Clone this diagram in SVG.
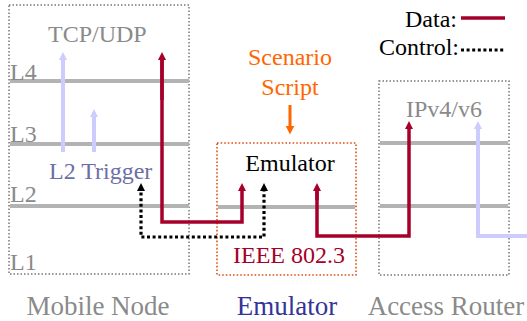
<svg xmlns="http://www.w3.org/2000/svg" width="527" height="321" viewBox="0 0 527 321" font-family="'Liberation Serif', 'DejaVu Serif', serif">
<defs>
<style>
text{font-family:'Liberation Serif','DejaVu Serif',serif;font-size:24px}
.g{fill:#8a8a8a}
.box{fill:none;stroke:#777;stroke-width:1.5;stroke-dasharray:1.5,2}
.ebox{fill:none;stroke:#e0501a;stroke-width:1.6;stroke-dasharray:1.6,2}
.layer{stroke:#b3b3b3;stroke-width:4;fill:none}
.data{stroke:#a6002a;stroke-width:3.5;fill:none}
.ctrl{stroke:#000;stroke-width:3.2;fill:none;stroke-dasharray:3,2.6}
.lav{stroke:#ccccff;stroke-width:4;fill:none}
.big{font-size:27px}
</style>
<marker id="ar" viewBox="0 0 10 10" refX="5" refY="5" markerWidth="8" markerHeight="8" markerUnits="userSpaceOnUse" orient="auto"><path d="M0,0L10,5L0,10z" fill="#a6002a"/></marker>
<marker id="ab" viewBox="0 0 10 10" refX="5" refY="5" markerWidth="8" markerHeight="8" markerUnits="userSpaceOnUse" orient="auto"><path d="M0,0L10,5L0,10z" fill="#000"/></marker>
<marker id="al" viewBox="0 0 10 10" refX="5" refY="5" markerWidth="8" markerHeight="8" markerUnits="userSpaceOnUse" orient="auto"><path d="M0,0L10,5L0,10z" fill="#ccccff"/></marker>
<marker id="ao" viewBox="0 0 10 10" refX="5" refY="5" markerWidth="9" markerHeight="9" markerUnits="userSpaceOnUse" orient="auto"><path d="M0,0L10,5L0,10z" fill="#ff6600"/></marker>
</defs>

<g id="mobile-node">
<rect class="box" x="9" y="5" width="180" height="269"/>
<line class="layer" x1="10" y1="81" x2="189" y2="81"/>
<line class="layer" x1="10" y1="144" x2="189" y2="144"/>
<line class="layer" x1="10" y1="206" x2="189" y2="206"/>
<text class="g" x="48" y="42">TCP/UDP</text>
<text class="g" x="10" y="80">L4</text>
<text class="g" x="10" y="142">L3</text>
<text class="g" x="10" y="202">L2</text>
<text class="g" x="10" y="270">L1</text>
<text x="49" y="179" fill="#6b6fa8">L2 Trigger</text>
<text class="g big" x="98" y="315" text-anchor="middle">Mobile Node</text>
</g>

<g id="emulator">
<rect class="ebox" x="217" y="143" width="139" height="132"/>
<line class="layer" x1="218" y1="207" x2="355" y2="207"/>
<text x="290" y="171" text-anchor="middle" fill="#000">Emulator</text>
<text x="289" y="263" text-anchor="middle" fill="#a6002a">IEEE 802.3</text>
<text class="big" x="287" y="315" text-anchor="middle" fill="#333399">Emulator</text>
</g>

<g id="access-router">
<rect class="box" x="379" y="81" width="130" height="194"/>
<line class="layer" x1="380" y1="143" x2="508" y2="143"/>
<line class="layer" x1="380" y1="206" x2="508" y2="206"/>
<text class="g" x="444" y="117" text-anchor="middle">IPv4/v6</text>
<text class="g big" x="446" y="315" text-anchor="middle">Access Router</text>
</g>

<g id="scenario-script">
<text x="290" y="65" text-anchor="middle" fill="#ff6600">Scenario</text>
<text x="290" y="95" text-anchor="middle" fill="#ff6600">Script</text>
</g>

<g id="legend">
<text x="457" y="27" text-anchor="end" fill="#000">Data:</text>
<text x="459" y="55" text-anchor="end" fill="#000">Control:</text>
<line class="data" x1="461" y1="18" x2="505" y2="18"/>
<line class="ctrl" x1="461" y1="50" x2="505" y2="50"/>
</g>

<g id="connectors">
<line class="lav" x1="63" y1="152" x2="63" y2="56" marker-end="url(#al)"/>
<line class="lav" x1="94" y1="152" x2="94" y2="113" marker-end="url(#al)"/>
<polyline class="lav" points="527,236 478,236 478,125" marker-end="url(#al)"/>
<polyline class="data" points="162,56 162,222 242,222 242,187" marker-end="url(#ar)"/>
<line class="data" x1="162" y1="100" x2="162" y2="56" marker-end="url(#ar)"/>
<polyline class="data" points="317,187 317,236 409,236 409,125" marker-end="url(#ar)"/>
<line class="data" x1="317" y1="200" x2="317" y2="187" marker-end="url(#ar)"/>
<polyline class="ctrl" points="141,187 141,237 264,237 264,187"/>
<line x1="141" y1="190" x2="141" y2="187" stroke="#000" stroke-width="3.2" marker-end="url(#ab)"/>
<line x1="264" y1="190" x2="264" y2="187" stroke="#000" stroke-width="3.2" marker-end="url(#ab)"/>
<line x1="290" y1="105" x2="290" y2="130" stroke="#ff6600" stroke-width="3" marker-end="url(#ao)"/>
</g>
</svg>
